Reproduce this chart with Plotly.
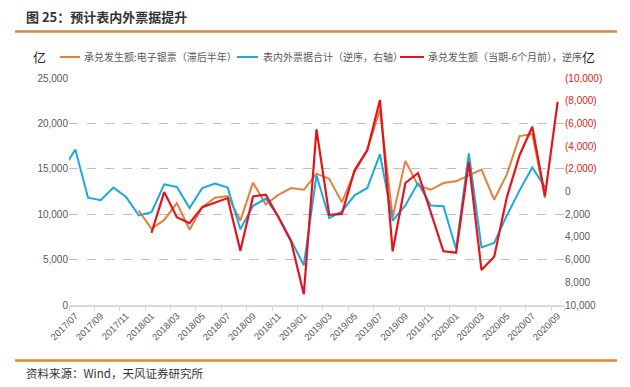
import pandas as pd
import plotly.graph_objects as go

months = [p.strftime("%Y/%m") for p in pd.period_range("2017-06", "2020-09", freq="M")]
tick_months = months[1::2]

orange_vals = [None] * 6 + [10400, 8380, 9370, 11220, 8300, 10780, 11810, 11990, 9300, 13470,
                            11070, 12140, 12880, 12690, 14470, 13910, 11330, 14650, 17050, 21500,
                            9670, 15870, 13170, 12690, 13430, 13620, 14280, 14910, 11590, 14390,
                            18600, 18820, 11800, None]
blue_vals = [-1900, -3700, 550, 760, -340, 490, 2110, 1820, -630, -400, 1460, -310, -690, -340,
             3320, 1260, 640, 2200, 4300, 6500, -1430, 2350, 1760, 340, -310, -3290, 2560, 1230,
             -750, 1230, 1290, 5060, -3350, 4920, 4530, 2110, -100, -2110, -400, None]
red_vals = [None] * 7 + [3650, 50, 2260, 2790, 1380, 990, 580, 5210, 430, 280, 2260, 4410, 9050,
                         -5470, 2050, 1970, -1870, -3640, -8070, 5270, -750, -1630, 1730, 5270,
                         5390, -2610, 6920, 5740, 490, -3200, -5710, 400, -7890]

left_ticks = [0, 5000, 10000, 15000, 20000, 25000]
right_ticks = list(range(-10000, 10001, 2000))

names = ["承兑发生额:电子银票（滞后半年）", "表内外票据合计（逆序，右轴）", "承兑发生额（当期-6个月前），逆序"]
colors = ["#E2803C", "#1EA8DE", "#E3141B"]

FONT = "Liberation Sans, Noto Sans CJK SC, sans-serif"
CJK = "Noto Sans CJK SC, sans-serif"

fig = go.Figure()
fig.add_trace(go.Scatter(x=months, y=orange_vals, name=names[0], mode="lines",
                         line=dict(color=colors[0], width=2), yaxis="y"))
fig.add_trace(go.Scatter(x=months, y=blue_vals, name=names[1], mode="lines",
                         line=dict(color=colors[1], width=2), yaxis="y2"))
fig.add_trace(go.Scatter(x=months, y=red_vals, name=names[2], mode="lines",
                         line=dict(color=colors[2], width=2.2), yaxis="y2"))

def rlabel(v):
    if v < 0:
        return f'<span style="color:#E02020">({abs(v):,})</span>'
    return f"{v:,}"

# page body has an 8px margin: figure spans screen 8..630 x 8..387
OFF = 8
W, H = 630 - OFF, 387 - OFF
L, R, T, B = 69 - OFF, 66, 78 - OFF, 82
pw, ph = W - L - R, H - T - B

def px(x):  # screen x -> paper
    return (x - OFF - L) / pw

def py(y):  # screen y -> paper
    return (H - B - (y - OFF)) / ph

fig.update_layout(
    width=W, height=H,
    margin=dict(l=L, r=R, t=T, b=B, autoexpand=False),
    paper_bgcolor="white", plot_bgcolor="white",
    font=dict(family=FONT, size=10, color="#595959"),
    showlegend=False,
    xaxis=dict(type="category", categoryorder="array", categoryarray=months,
               range=[0.5, len(months) - 0.5], tickmode="array", tickvals=tick_months,
               ticktext=tick_months, tickangle=-45, tickson="boundaries",
               ticks="outside", ticklen=4, tickcolor="#D9D9D9",
               showline=True, linecolor="#D9D9D9", linewidth=1.5,
               showgrid=False, zeroline=False, automargin=False,
               tickfont=dict(size=9.5, color="#595959")),
    yaxis=dict(range=[0, 25000], tickvals=left_ticks, ticktext=[f"{v:,}" for v in left_ticks],
               showgrid=True, gridcolor="#BFBFBF", griddash="dash", gridwidth=0.8,
               zeroline=False, showline=False, ticks="", automargin=False,
               tickfont=dict(size=10, color="#595959")),
    yaxis2=dict(range=[10000, -10000], overlaying="y", side="right",
                tickvals=right_ticks, ticktext=[rlabel(v) for v in right_ticks],
                showgrid=False, zeroline=False, showline=False, ticks="", automargin=False,
                tickfont=dict(size=10, color="#595959")),
)

# manual legend (line sample + real text) placed as in the reference
legend_pos = [(60, 80, 82), (237, 258, 261), (400, 424, 426)]
for (x0, x1, xt), name, col in zip(legend_pos, names, colors):
    fig.add_shape(type="line", xref="paper", yref="paper", x0=px(x0), x1=px(x1),
                  y0=py(57), y1=py(57), line=dict(color=col, width=2))
    fig.add_annotation(text=name, xref="paper", yref="paper", x=px(xt), y=py(57),
                       xanchor="left", yanchor="middle", showarrow=False,
                       font=dict(family=CJK, size=10, color="#595959"))

fig.add_annotation(text="<b>图 25：预计表内外票据提升</b>", xref="paper", yref="paper",
                   x=px(24), y=py(17), xanchor="left", yanchor="middle", showarrow=False,
                   font=dict(family=CJK, size=13, color="#333333"))
fig.add_annotation(text="资料来源：Wind，天风证券研究所", xref="paper", yref="paper",
                   x=px(24), y=py(373), xanchor="left", yanchor="middle", showarrow=False,
                   font=dict(family=CJK, size=11.5, color="#333333"))
fig.add_annotation(text="亿", xref="paper", yref="paper", x=px(39), y=py(57),
                   xanchor="center", yanchor="middle", showarrow=False,
                   font=dict(family=CJK, size=13, color="#222222"))
fig.add_annotation(text="亿", xref="paper", yref="paper", x=px(588), y=py(57),
                   xanchor="center", yanchor="middle", showarrow=False,
                   font=dict(family=CJK, size=13, color="#222222"))

fig.add_shape(type="line", xref="paper", yref="paper", x0=px(15), x1=px(617), y0=py(31.5), y1=py(31.5),
              line=dict(color="#D48A40", width=2.5))
fig.add_shape(type="line", xref="paper", yref="paper", x0=px(15), x1=px(617), y0=py(360.5), y1=py(360.5),
              line=dict(color="#E5862E", width=2.5))

fig.write_html("out.html")
